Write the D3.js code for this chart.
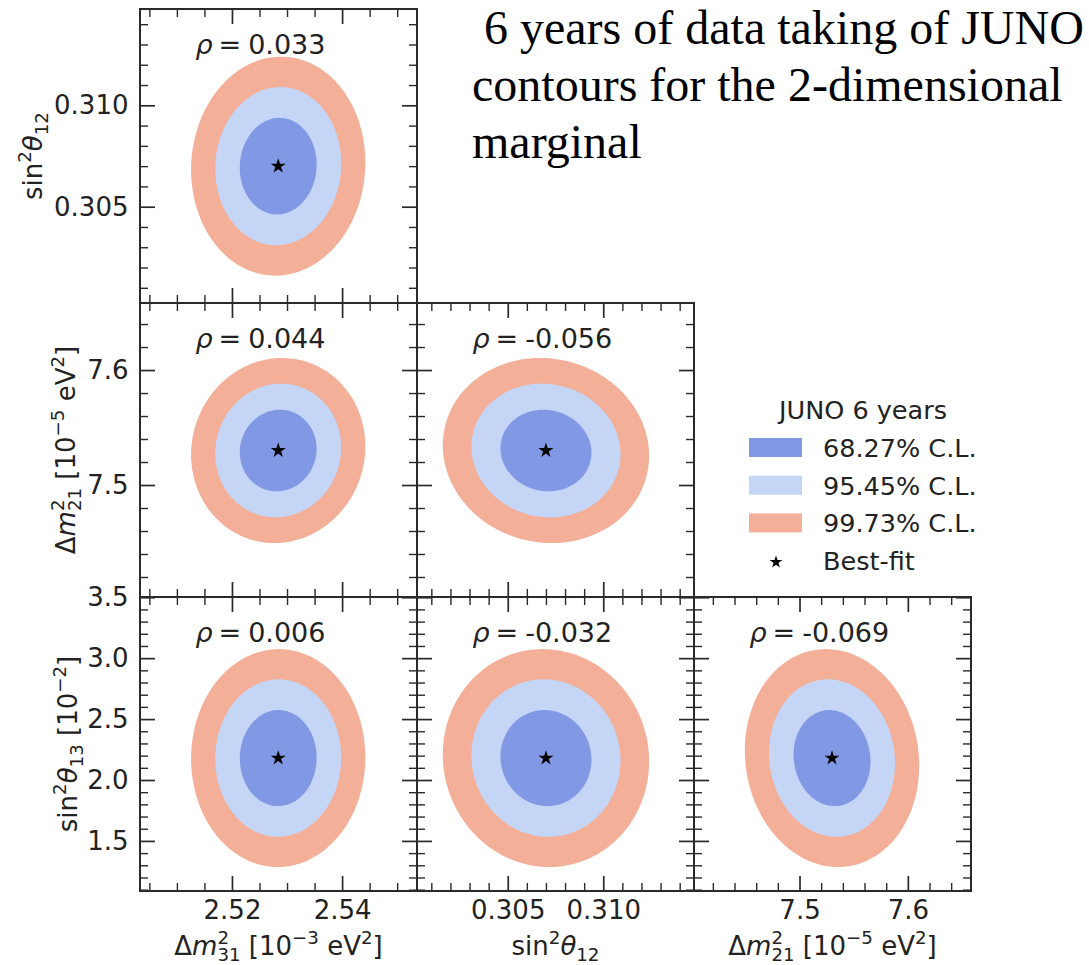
<!DOCTYPE html>
<html lang="en">
  <head>
    <meta charset="UTF-8" />
    <meta name="viewport" content="width=device-width, initial-scale=1.0" />
    <title>JUNO 6 years contours</title>
    <style>
      body {
        margin: 0;
        background: #fff;
      }
      svg text {
        font-family: "DejaVu Sans", sans-serif;
        fill: #222;
      }
      .title {
        font-family: "Liberation Serif", "Times New Roman", serif;
        font-size: 48px;
        fill: #000 !important;
      }
    </style>
    <script src="https://d3js.org/d3.v7.min.js"></script>
  </head>
  <body>
    <div id="chart"></div>

    <script>
      // parameters, in order: dm2_31, sin2_12, dm2_21, sin2_13
      const bestFit = [2.5284, 0.307, 7.53, 2.18];
      const sigma = [0.0046, 0.00157, 0.0234, 0.26];
      const axisMin = [2.5033, 0.30025, 7.4026, 1.089];
      const axisMax = [2.5536, 0.31475, 7.6583, 3.502];
      const majorTicks = [
        [2.52, 2.54],
        [0.305, 0.31],
        [7.5, 7.6],
        [1.5, 2.0, 2.5, 3.0, 3.5],
      ];
      const tickFormats = [".2f", ".3f", ".1f", ".1f"];
      const minorStep = [0.005, 0.001, 0.02, 0.1];

      // triangle layout: columns hold x parameter, rows hold y parameter
      const colParams = [0, 1, 2];
      const rowParams = [1, 2, 3];
      const rhoValues = [[0.033], [0.044, -0.056], [0.006, -0.032, -0.069]];

      const clLabels = ["68.27% C.L.", "95.45% C.L.", "99.73% C.L."];
      const deltaChi2 = [2.3, 6.18, 11.83];
      const clColors = ["#8198e5", "#c4d5f6", "#f4af98"];

      const titleLines = [
        "6 years of data taking of JUNO",
        "contours for the 2-dimensional",
        "marginal",
      ];

      const axisLabels = [
        [
          { t: "Δ" }, { t: "m", i: true }, { t: "2", sup: true },
          { t: "31", sub: true, stack: true }, { t: " [10" },
          { t: "−3", sup: true }, { t: " eV" }, { t: "2", sup: true }, { t: "]" },
        ],
        [
          { t: "sin" }, { t: "2", sup: true }, { t: "θ", i: true },
          { t: "12", sub: true },
        ],
        [
          { t: "Δ" }, { t: "m", i: true }, { t: "2", sup: true },
          { t: "21", sub: true, stack: true }, { t: " [10" },
          { t: "−5", sup: true }, { t: " eV" }, { t: "2", sup: true }, { t: "]" },
        ],
        [
          { t: "sin" }, { t: "2", sup: true }, { t: "θ", i: true },
          { t: "13", sub: true }, { t: " [10" }, { t: "−2", sup: true }, { t: "]" },
        ],
      ];

      const W = 1089, H = 965;
      const gridLeft = 140, gridTop = 9, pw = 277, ph = 294;
      const fontSize = 26;
      const yLabelX = [42, 75, 77];

      const svg = d3
        .select("#chart")
        .append("svg")
        .attr("width", W)
        .attr("height", H);

      svg.append("rect").attr("width", W).attr("height", H).attr("fill", "#fff");

      function richText(sel, parts, size) {
        let shift = 0;
        let supLen = 0;
        parts.forEach((p) => {
          const target = p.sup ? -0.42 * size : p.sub ? 0.24 * size : 0;
          const ts = sel
            .append("tspan")
            .attr("dy", target - shift)
            .attr("font-size", p.sup || p.sub ? size * 0.7 : size)
            .text(p.t);
          if (p.i) ts.attr("font-style", "italic");
          if (p.stack) ts.attr("dx", -supLen);
          shift = target;
          if (p.sup) supLen = ts.node().getComputedTextLength();
        });
      }

      function minorValues(k) {
        const step = minorStep[k];
        const out = [];
        for (let n = Math.ceil(axisMin[k] / step - 1e-9); n * step <= axisMax[k] + 1e-9; n++) {
          const v = +(n * step).toFixed(6);
          if (!majorTicks[k].some((m) => Math.abs(m - v) < 1e-9)) out.push(v);
        }
        return out;
      }

      function drawAxis(g, axisFn, scale, values, len, labelled, fmt) {
        const a = axisFn(scale)
          .tickValues(values)
          .tickSize(-len)
          .tickSizeOuter(0)
          .tickPadding(labelled ? (axisFn === d3.axisBottom ? 9.5 : 11.5) : 0)
          .tickFormat(labelled ? d3.format(fmt) : "");
        g.call(a);
        g.select(".domain").remove();
        g.selectAll(".tick line")
          .attr("stroke", "#2a2a2a")
          .attr("stroke-width", len > 10 ? 1.7 : 1.4);
        g.selectAll(".tick text")
          .attr("font-size", fontSize)
          .attr("font-family", "DejaVu Sans")
          .attr("fill", "#222");
      }

      const angles = d3.range(0, 360, 2).map((a) => (a * Math.PI) / 180);

      function contour(xi, yi, rho, chi2) {
        const r = Math.sqrt(chi2);
        return angles.map((t) => {
          const u = r * Math.cos(t);
          const v = r * Math.sin(t);
          return [
            bestFit[xi] + sigma[xi] * u,
            bestFit[yi] + sigma[yi] * (rho * u + Math.sqrt(1 - rho * rho) * v),
          ];
        });
      }

      const star = d3.symbol().type(d3.symbolStar);

      rowParams.forEach((yi, r) => {
        colParams.forEach((xi, c) => {
          if (c > r) return;
          const g = svg
            .append("g")
            .attr("transform", `translate(${gridLeft + c * pw},${gridTop + r * ph})`);

          const x = d3.scaleLinear().domain([axisMin[xi], axisMax[xi]]).range([0, pw]);
          const y = d3.scaleLinear().domain([axisMin[yi], axisMax[yi]]).range([ph, 0]);
          const rho = rhoValues[r][c];

          const line = d3
            .line()
            .x((d) => x(d[0]))
            .y((d) => y(d[1]))
            .curve(d3.curveLinearClosed);

          for (let k = deltaChi2.length - 1; k >= 0; k--) {
            g.append("path")
              .attr("d", line(contour(xi, yi, rho, deltaChi2[k])))
              .attr("fill", clColors[k]);
          }

          g.append("path")
            .attr("d", star.size(70)())
            .attr("transform", `translate(${x(bestFit[xi])},${y(bestFit[yi])})`)
            .attr("fill", "#000");

          const rt = g
            .append("text")
            .attr("x", pw * 0.2)
            .attr("y", 45)
            .attr("font-size", 27);
          rt.append("tspan").attr("font-style", "italic").text("ρ");
          rt.append("tspan").attr("dx", 6).text("=");
          rt.append("tspan").attr("dx", 7).text(rho.toFixed(3));

          // ticks on all four sides, pointing inward
          const sides = [
            [d3.axisBottom, x, `translate(0,${ph})`, r === rowParams.length - 1, xi],
            [d3.axisTop, x, "translate(0,0)", false, xi],
            [d3.axisLeft, y, "translate(0,0)", c === 0, yi],
            [d3.axisRight, y, `translate(${pw},0)`, false, yi],
          ];
          sides.forEach(([fn, sc, tr, lab, k]) => {
            drawAxis(g.append("g").attr("transform", tr), fn, sc, minorValues(k), 8, false, "");
            drawAxis(g.append("g").attr("transform", tr), fn, sc, majorTicks[k], 15, lab, tickFormats[k]);
          });

          g.append("rect")
            .attr("width", pw)
            .attr("height", ph)
            .attr("fill", "none")
            .attr("stroke", "#2a2a2a")
            .attr("stroke-width", 2);

          if (r === rowParams.length - 1) {
            const t = g
              .append("text")
              .attr("x", pw / 2)
              .attr("y", 955 - (gridTop + r * ph))
              .attr("text-anchor", "middle");
            richText(t, axisLabels[xi], fontSize);
          }
          if (c === 0) {
            const t = g
              .append("text")
              .attr("transform", `translate(${yLabelX[r] - gridLeft},${ph / 2}) rotate(-90)`)
              .attr("text-anchor", "middle");
            richText(t, axisLabels[yi], fontSize);
          }
        });
      });

      // legend
      const legend = svg.append("g");
      legend
        .append("text")
        .attr("x", 863)
        .attr("y", 419)
        .attr("text-anchor", "middle")
        .attr("font-size", 25.5)
        .text("JUNO 6 years");

      const rowY = (i) => 457 + i * 37.7;
      clLabels.forEach((lab, i) => {
        legend
          .append("rect")
          .attr("x", 749)
          .attr("y", rowY(i) - 19)
          .attr("width", 53)
          .attr("height", 19)
          .attr("fill", clColors[i]);
        legend
          .append("text")
          .attr("x", 823)
          .attr("y", rowY(i))
          .attr("font-size", 25.5)
          .text(lab);
      });
      legend
        .append("path")
        .attr("d", star.size(50)())
        .attr("transform", `translate(776,${rowY(3) - 8})`)
        .attr("fill", "#000");
      legend
        .append("text")
        .attr("x", 823)
        .attr("y", rowY(3))
        .attr("font-size", 25.5)
        .text("Best-fit");

      // title
      titleLines.forEach((s, i) => {
        svg
          .append("text")
          .attr("class", "title")
          .attr("x", i === 0 ? 484 : 472)
          .attr("y", 44 + i * 57)
          .text(s);
      });
    </script>
  </body>
</html>
